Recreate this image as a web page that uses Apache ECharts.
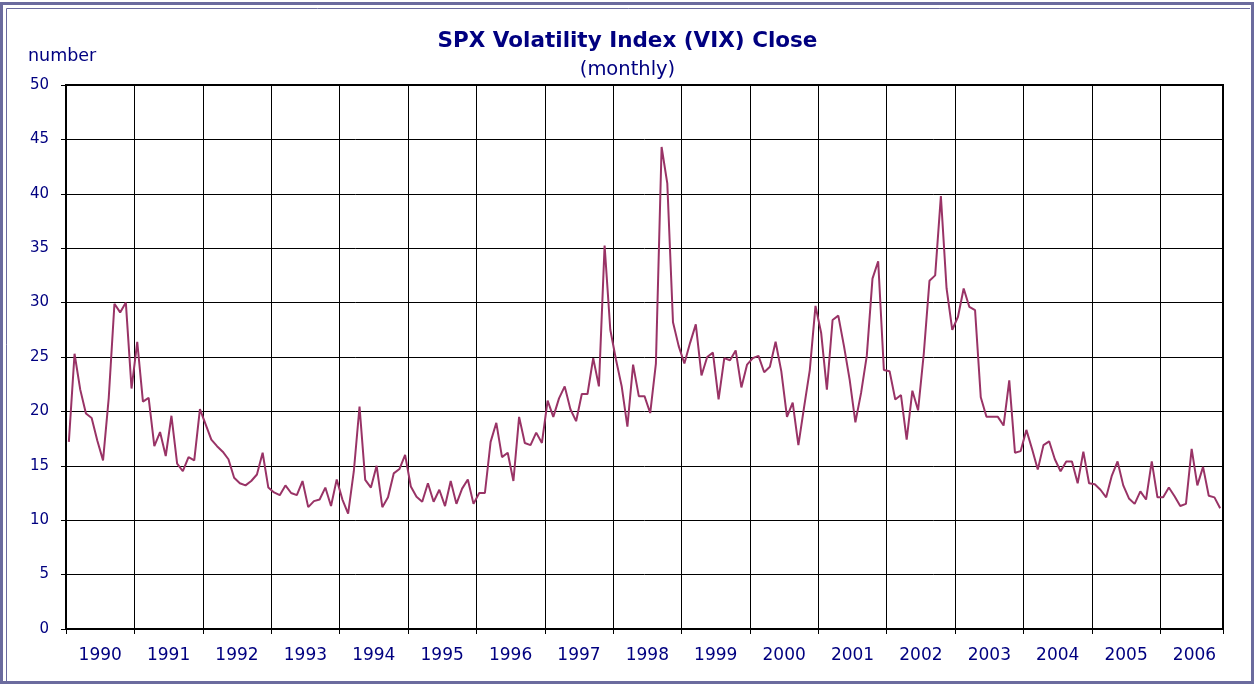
<!DOCTYPE html>
<html>
<head>
<meta charset="utf-8">
<script src="https://cdn.jsdelivr.net/npm/echarts@6/dist/echarts.min.js"></script>
<style>
html,body{margin:0;padding:0;background:#fff;}
#chart{width:1255px;height:685px;}
</style>
</head>
<body>
<div id="chart"></div>
<script>
const years = ['1990','1991','1992','1993','1994','1995','1996','1997','1998','1999','2000','2001','2002','2003','2004','2005','2006'];
const yTicks = [0,5,10,15,20,25,30,35,40,45,50];
// monthly closes, first point = start of 1990
const vixValues = [
 17.2,25.3,22.0,19.8,19.4,17.3,15.5,21.25,29.9,29.1,30.0,22.1,
 26.4,20.9,21.25,16.8,18.1,15.9,19.6,15.2,14.5,15.8,15.5,20.2,
 18.8,17.4,16.8,16.3,15.6,13.9,13.4,13.2,13.6,14.2,16.2,13.0,
 12.55,12.3,13.2,12.5,12.3,13.6,11.2,11.75,11.9,13.0,11.3,13.75,
 11.9,10.6,14.5,20.45,13.7,13.0,15.0,11.2,12.1,14.3,14.7,16.0,
 13.1,12.15,11.7,13.4,11.7,12.8,11.3,13.6,11.5,12.9,13.75,11.5,
 12.5,12.5,17.2,18.95,15.8,16.2,13.6,19.5,17.1,16.9,18.05,17.1,
 21.0,19.5,21.2,22.3,20.2,19.1,21.6,21.6,24.9,22.3,35.25,27.5,
 24.75,22.3,18.6,24.3,21.4,21.4,19.85,24.4,44.3,40.95,28.2,26.0,
 24.4,26.3,28.0,23.3,25.0,25.4,21.1,24.9,24.7,25.6,22.2,24.3,
 24.9,25.1,23.6,24.1,26.4,23.7,19.5,20.8,16.9,20.4,23.8,29.7,
 27.2,22.0,28.4,28.8,26.0,22.9,19.0,21.7,25.1,32.2,33.8,23.8,
 23.7,21.1,21.5,17.4,21.9,20.1,25.3,32.0,32.5,39.8,31.3,27.5,
 28.7,31.3,29.6,29.3,21.3,19.5,19.5,19.5,18.7,22.85,16.2,16.35,
 18.3,16.55,14.65,16.9,17.25,15.6,14.5,15.4,15.4,13.4,16.3,13.4,
 13.3,12.8,12.1,14.1,15.4,13.2,12.0,11.5,12.65,11.9,15.4,12.1,
 12.1,13.0,12.2,11.3,11.5,16.55,13.2,14.9,12.25,12.1,11.1
];

const navy = '#000080';
const font = "'DejaVu Sans', 'Liberation Sans', Arial, sans-serif";
const chart = echarts.init(document.getElementById('chart'), null, {renderer:'canvas'});
chart.setOption({
  animation: false,
  backgroundColor: '#fff',
  textStyle: {fontFamily: font},
  graphic: [
    {type:'rect', shape:{x:1.5, y:3.5, width:1251, height:679}, style:{fill:null, stroke:'#6b6b9e', lineWidth:3}, silent:true},
    {type:'polyline', shape:{points:[[6.5,681],[6.5,8.5],[1250,8.5]]}, style:{fill:null, stroke:'#6b6b9e', lineWidth:1}, silent:true}
  ],
  title: [
    {text:'SPX Volatility Index (VIX) Close', left:'center', top:25, textStyle:{fontFamily:font, fontSize:21.5, fontWeight:'bold', color:navy}},
    {text:'(monthly)', left:'center', top:55, textStyle:{fontFamily:font, fontSize:19.5, fontWeight:'normal', color:navy}},
    {text:'number', left:23, top:42, textStyle:{fontFamily:font, fontSize:17.5, fontWeight:'normal', color:navy}}
  ],
  grid: {left:66, right:32, top:85, bottom:56, show:true, borderColor:'#000', borderWidth:2, containLabel:false},
  xAxis: [
    {type:'value', min:0, max:203, interval:12, position:'bottom',
     axisLine:{show:true, onZero:false, lineStyle:{color:'#000', width:2}},
     axisTick:{show:true, length:5, lineStyle:{color:'#000', width:1}},
     axisLabel:{show:false},
     splitLine:{show:true, lineStyle:{color:'#000', width:1}}},
    {type:'value', min:0, max:203, interval:6, position:'bottom',
     axisLine:{show:false}, axisTick:{show:false}, splitLine:{show:false},
     axisLabel:{show:true, color:navy, fontSize:17, fontFamily:font, margin:18,
       formatter: v => (v % 12 === 6 ? years[(v - 6) / 12] : '')}}
  ],
  yAxis: {type:'value', min:yTicks[0], max:yTicks[yTicks.length-1], interval:5,
    axisLine:{show:true, lineStyle:{color:'#000', width:2}},
    axisTick:{show:true, length:5, lineStyle:{color:'#000', width:1}},
    axisLabel:{color:navy, fontSize:15, fontFamily:font, margin:17},
    splitLine:{show:true, lineStyle:{color:'#000', width:1}}},
  series: [{
    type:'line', xAxisIndex:0, symbol:'none',
    lineStyle:{color:'#993366', width:2},
    data: vixValues.map((v, i) => [i + 0.5, v])
  }]
});
</script>
</body>
</html>
